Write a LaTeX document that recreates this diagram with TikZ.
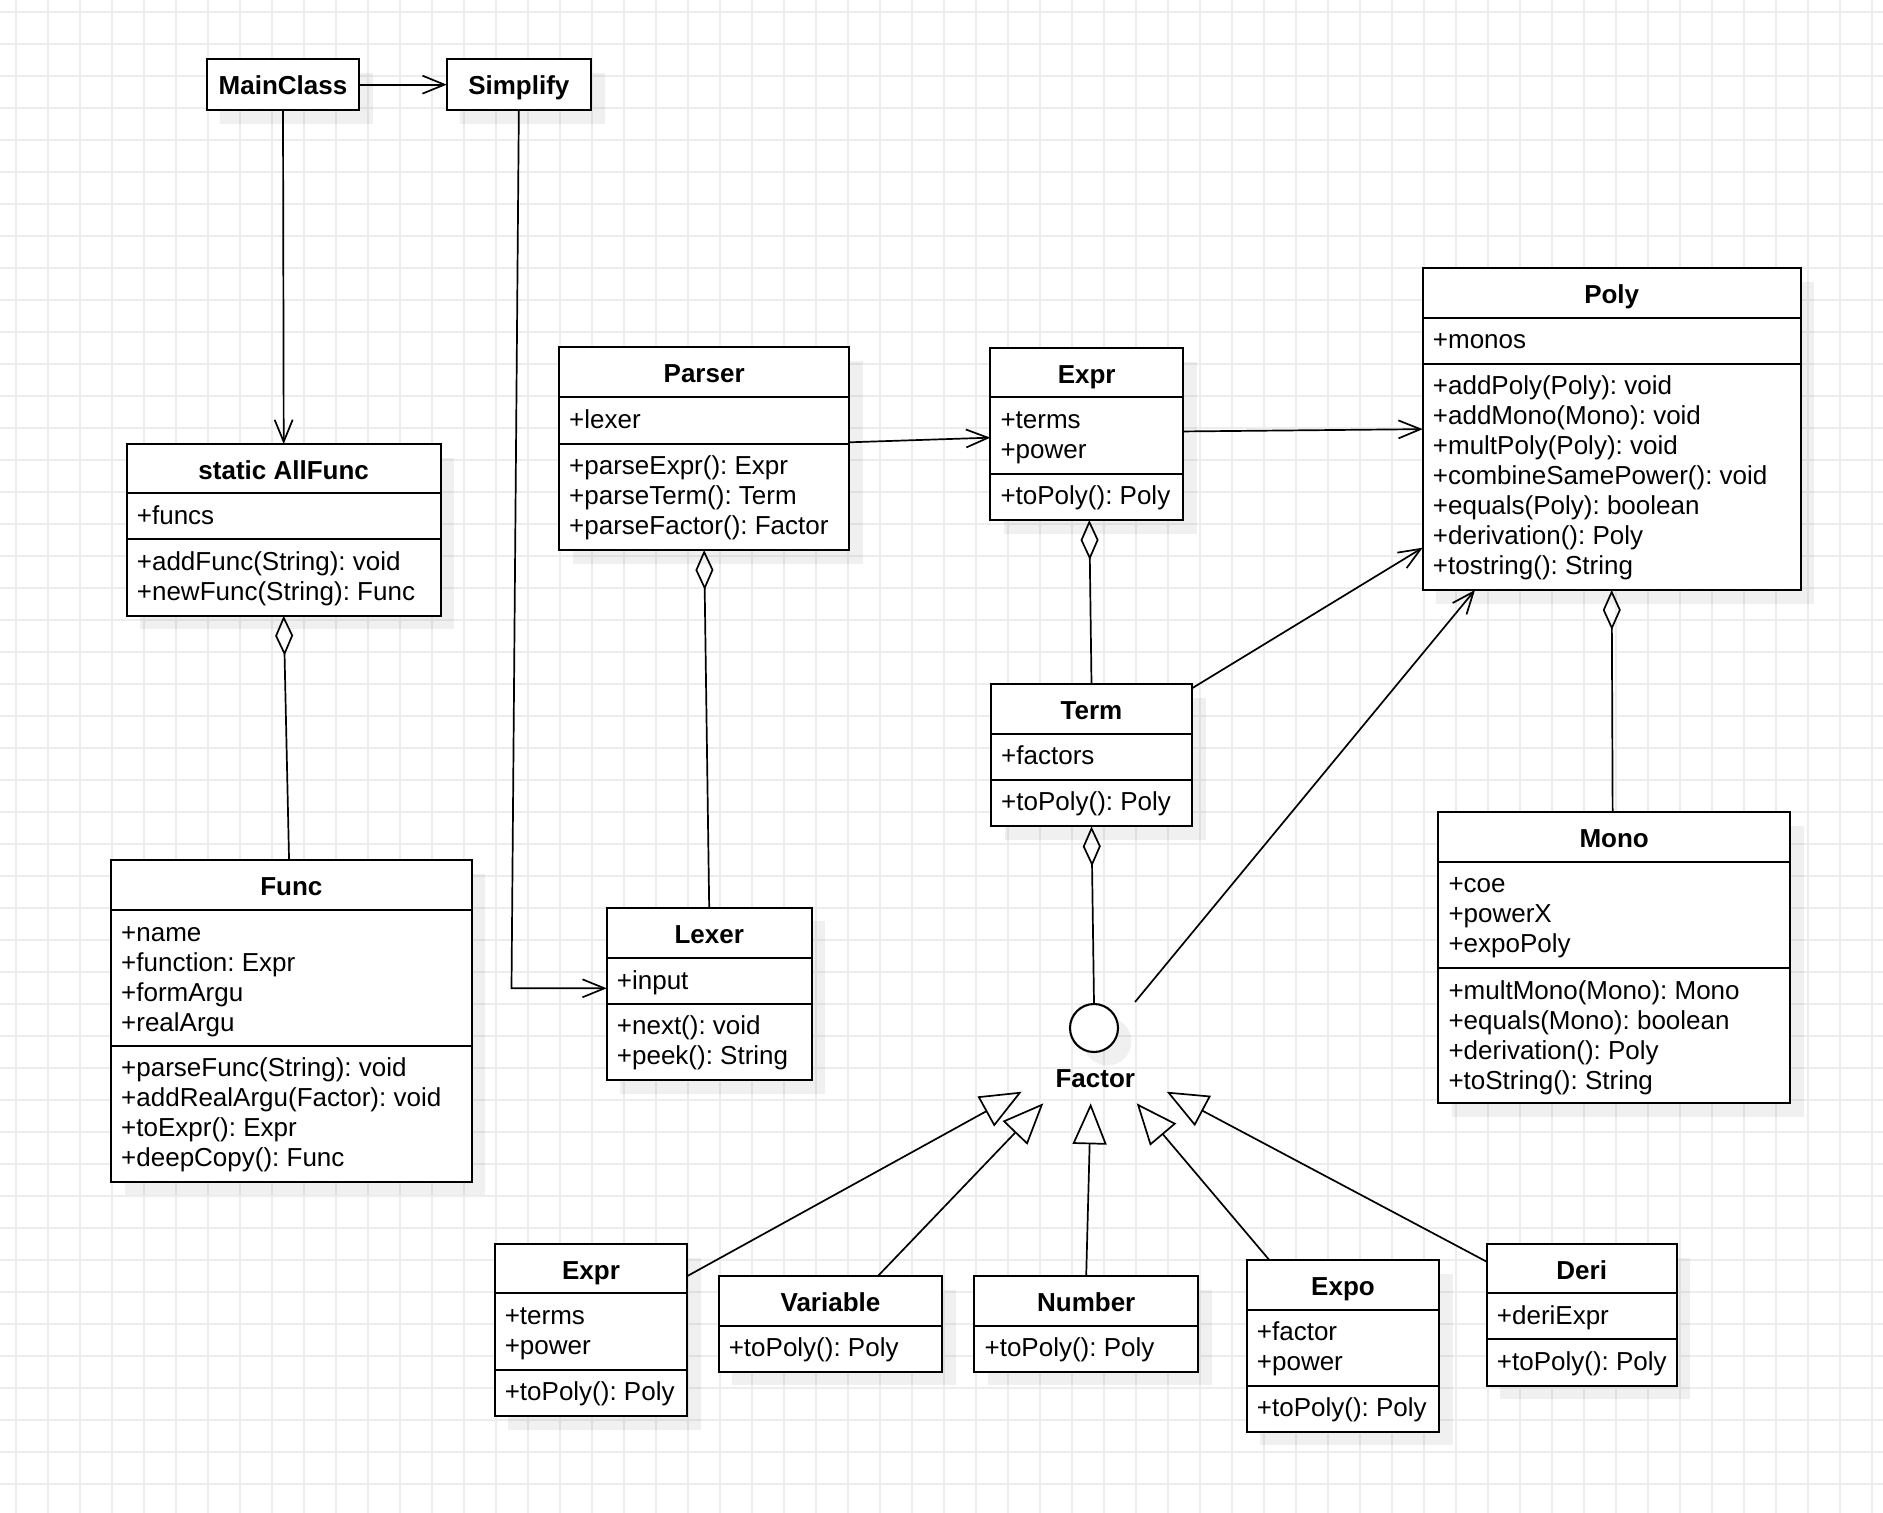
\documentclass[tikz,border=0pt]{standalone}
\usepackage{fontspec}
\setmainfont{Liberation Sans}
\usetikzlibrary{arrows.meta,calc}
\frenchspacing
\newcommand\ls{\rule[-6.5pt]{0pt}{30pt}}
\newcommand\umlcls[6]{%
  \fill[shadowc] ({#2+13.5},{#3+13.5}) rectangle ({#4+13.5},{#5+13.5});
  \node[boxs, minimum width={(#4-#2)*1pt}, minimum height={(#5-#3)*1pt}] (#1) at (#2,#3) {};
  \node[hdr] (#1-title) at ({(#2+#4)/2},{#3+35.3}) {#6};
}
\newcommand\umlsep[3]{\draw[sepl] (#1,#3) -- ({#2+1},#3);}
\newcommand\umltxt[4]{\node[txt] (#1) at ({#2+10},{#3+7}) {#4};}
\begin{document}
\begin{tikzpicture}[x=1pt,y=-1pt,
  font=\fontsize{26}{30}\selectfont\frenchspacing,
  gridl/.style={draw=black!7, line width=1.6pt},
  shadowc/.style={fill=black, fill opacity=0.06},
  boxs/.style={draw=black, fill=white, line width=2.1pt, inner sep=0pt, outer sep=0pt, anchor=north west},
  hdr/.style={font=\fontsize{26}{30}\selectfont\bfseries, anchor=base, inner sep=0pt},
  txt/.style={anchor=north west, inner sep=0pt, align=left},
  sepl/.style={line width=2.1pt},
  conn/.style={line width=1.7pt},
  openarr/.style={conn, -{Straight Barb[length=22pt,width=18pt]}},
  aggr/.style={conn, {Diamond[open,length=40pt,width=18pt]}-},
  inh/.style={conn, -{Triangle[open,length=41pt,width=34pt]}},
]
\useasboundingbox (0,0) rectangle (1883,1513);
\fill[white] (0,0) rectangle (1883,1513);
\foreach \k in {0,...,58} \draw[gridl] ({16+32*\k},0) -- ({16+32*\k},1513);
\foreach \k in {0,...,46} \draw[gridl] (0,{12+32*\k}) -- (1883,{12+32*\k});

% top
\umlcls{MainClass}{206.7}{59.3}{359.3}{110}{MainClass}
\umlcls{Simplify}{446.7}{59.3}{591}{110}{Simplify}

% AllFunc
\umlcls{AllFunc}{126.7}{444}{440.7}{615.7}{static AllFunc}
\umlsep{126.7}{440.7}{493.3}\umlsep{126.7}{440.7}{539.3}
\umltxt{AllFunc-a}{126.7}{493.3}{\ls +funcs}
\umltxt{AllFunc-m}{126.7}{539.3}{\ls +addFunc(String): void\\\ls +newFunc(String): Func}

% Func
\umlcls{Func}{111}{860}{471.7}{1181.7}{Func}
\umlsep{111}{471.7}{910.3}\umlsep{111}{471.7}{1046}
\umltxt{Func-a}{111}{910.3}{\ls +name\\\ls +function: Expr\\\ls +formArgu\\\ls +realArgu}
\umltxt{Func-m}{111}{1046}{\ls +parseFunc(String): void\\\ls +addRealArgu(Factor): void\\\ls +toExpr(): Expr\\\ls +deepCopy(): Func}

% Parser
\umlcls{Parser}{559}{347.3}{849.3}{550}{Parser}
\umlsep{559}{849.3}{397.3}\umlsep{559}{849.3}{443.7}
\umltxt{Parser-a}{559}{397.3}{\ls +lexer}
\umltxt{Parser-m}{559}{443.7}{\ls +parseExpr(): Expr\\\ls +parseTerm(): Term\\\ls +parseFactor(): Factor}

% Lexer
\umlcls{Lexer}{606.7}{907.7}{811.7}{1080}{Lexer}
\umlsep{606.7}{811.7}{958.3}\umlsep{606.7}{811.7}{1004}
\umltxt{Lexer-a}{606.7}{958.3}{\ls +input}
\umltxt{Lexer-m}{606.7}{1004}{\ls +next(): void\\\ls +peek(): String}

% Expr (top)
\umlcls{Expr}{990.3}{348.3}{1183.1}{520}{Expr}
\umlsep{990.3}{1183.1}{397.3}\umlsep{990.3}{1183.1}{474}
\umltxt{Expr-a}{990.3}{397.3}{\ls +terms\\\ls +power}
\umltxt{Expr-m}{990.3}{474}{\ls +toPoly(): Poly}

% Poly
\umlcls{Poly}{1422.7}{268.3}{1800.7}{590}{Poly}
\umlsep{1422.7}{1800.7}{317.7}\umlsep{1422.7}{1800.7}{363.7}
\umltxt{Poly-a}{1422.7}{317.7}{\ls +monos}
\umltxt{Poly-m}{1422.7}{363.7}{\ls +addPoly(Poly): void\\\ls +addMono(Mono): void\\\ls +multPoly(Poly): void\\\ls +combineSamePower(): void\\\ls +equals(Poly): boolean\\\ls +derivation(): Poly\\\ls +tostring(): String}

% Term
\umlcls{Term}{991}{684}{1192}{826.4}{Term}
\umlsep{991}{1192}{733.7}\umlsep{991}{1192}{779.7}
\umltxt{Term-a}{991}{733.7}{\ls +factors}
\umltxt{Term-m}{991}{779.7}{\ls +toPoly(): Poly}

% Mono
\umlcls{Mono}{1438.3}{812.3}{1790}{1103.3}{Mono}
\umlsep{1438.3}{1790}{861.7}\umlsep{1438.3}{1790}{968.3}
\umltxt{Mono-a}{1438.3}{861.7}{\ls +coe\\\ls +powerX\\\ls +expoPoly}
\umltxt{Mono-m}{1438.3}{968.3}{\ls +multMono(Mono): Mono\\\ls +equals(Mono): boolean\\\ls +derivation(): Poly\\\ls +toString(): String}

% Factor interface
\fill[shadowc] (1107.5,1041.5) circle (24);
\node[circle, draw=black, fill=white, line width=2.1pt, minimum size=48pt, inner sep=0pt] (Factor) at (1094,1028) {};
\node[hdr] (Factor-title) at (1095.3,1087.3) {Factor};

% bottom row
\umlcls{ExprB}{494.6}{1244}{687.4}{1416}{Expr}
\umlsep{494.6}{687.4}{1293.3}\umlsep{494.6}{687.4}{1370}
\umltxt{ExprB-a}{494.6}{1293.3}{\ls +terms\\\ls +power}
\umltxt{ExprB-m}{494.6}{1370}{\ls +toPoly(): Poly}

\umlcls{Variable}{718.6}{1276}{942.3}{1371.7}{Variable}
\umlsep{718.6}{942.3}{1326}
\umltxt{Variable-m}{718.6}{1326}{\ls +toPoly(): Poly}

\umlcls{Number}{974.4}{1276}{1198}{1371.7}{Number}
\umlsep{974.4}{1198}{1326}
\umltxt{Number-m}{974.4}{1326}{\ls +toPoly(): Poly}

\umlcls{Expo}{1246.7}{1260}{1439.3}{1431.7}{Expo}
\umlsep{1246.7}{1439.3}{1310}\umlsep{1246.7}{1439.3}{1385.7}
\umltxt{Expo-a}{1246.7}{1310}{\ls +factor\\\ls +power}
\umltxt{Expo-m}{1246.7}{1385.7}{\ls +toPoly(): Poly}

\umlcls{Deri}{1486.7}{1244}{1676.7}{1385.7}{Deri}
\umlsep{1486.7}{1676.7}{1293.3}\umlsep{1486.7}{1676.7}{1339.3}
\umltxt{Deri-a}{1486.7}{1293.3}{\ls +deriExpr}
\umltxt{Deri-m}{1486.7}{1339.3}{\ls +toPoly(): Poly}

% connectors
\draw[openarr] (MainClass.east) -- (Simplify.west);
\draw[openarr] (MainClass.south) -- (AllFunc.north);
\draw[aggr] (AllFunc.south) -- ($(Func.north)+(-2.3,0)$);
\coordinate (bendL) at (511.5,988.3);
\draw[openarr] (Simplify.south) -- (bendL) -- (bendL -| Lexer.west);
\draw[aggr] (Parser.south) -- (Lexer.north);
\draw[openarr] ($(Parser.east)+(0,-6.35)$) -- ($(Expr.west)+(0,3.5)$);
\draw[openarr] ($(Expr.east)+(0,-2.7)$) -- (Poly.west);
\draw[aggr] ($(Expr.south)+(2.6,0)$) -- (Term.north);
\draw[openarr] ($(Term.north east)+(0,4.3)$) -- ($(Poly.south west)+(0,-42.3)$);
\draw[aggr] (Term.south) -- (Factor.north);
\coordinate (FactorOut) at (1135,1002);
\draw[openarr] (FactorOut) -- ($(Poly.south west)+(52.3,0)$);
\draw[aggr] (Poly.south) -- ($(Mono.north)+(-1.5,0)$);

\coordinate (tE) at (1021.7,1091.7);
\coordinate (tV) at (1043.3,1103.3);
\coordinate (tN) at (1090.7,1103.3);
\coordinate (tX) at (1136.7,1103.3);
\coordinate (tD) at (1166.7,1091.7);
\draw[inh] ($(ExprB.north east)+(0,32)$) -- (tE);
\draw[inh] ($(Variable.north)+(47.5,0)$) -- (tV);
\draw[inh] (Number.north) -- (tN);
\draw[inh] ($(Expo.north west)+(22.6,0)$) -- (tX);
\draw[inh] ($(Deri.north west)+(0,17.7)$) -- (tD);
\end{tikzpicture}
\end{document}
